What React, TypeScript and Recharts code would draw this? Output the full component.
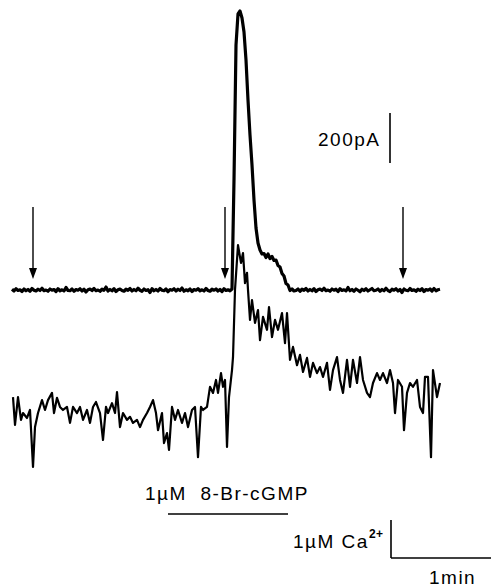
import React from "react";
import { ComposedChart, Line, XAxis, YAxis, ReferenceLine, ReferenceDot } from "recharts";

// Membrane current (pA), sampled every 1.2 s from t = 0 s
const SAMPLE_INTERVAL_S = 1.2;
const currentBefore: number[] = [
  3, -4, 5, -2, 1, -6, 4, -3, 2, -5,
  6, -1, -4, 3, -2, 7, -3, 0, -5, 4,
  -1, 2, -6, 5, -3, 1, -4, 10, -2, -3,
  4, -5, 2, -1, 5, -4, 3, -8, 1, 4,
  -2, 6, -3, 0, -5, 3, -1, 12, -4, 2,
  -3, 5, -6, 1, 4, -2, -5, 3, -1, 6,
  -4, 2, -3, 7, -1, -5, 4, -2, 1, -10,
  5, -3, 2, -4, 6, -1, -3, 4, -7, 2,
  -1, 5, -4, 3, -2, 8, -5, 1, -3, 4,
  -6, 2, -1, 5, -3, 1, -4, 6, -2, -5,
  3, -1, 4, -4, 2, -6, 5, -2, 1, -3, 4,
];
const currentTransient: number[] = [
  440, 980, 1104, 1116, 1088, 1032, 920, 760, 620, 500,
  360, 248, 188, 160, 144, 146, 130, 144, 126, 134,
  118, 120, 98, 92, 66, 56, 26, 20, -2, 4, -4,
];
const currentAfter: number[] = [
  -2, 4, -5, 3, -1, 6, -4, 2, -3, 5,
  -6, 1, 4, -2, 7, -3, 0, -5, 4, -1,
  3, -6, 5, -2, 1, -4, 10, -3, 2, -5,
  4, -1, -7, 3, -2, 5, -4, 1, 6, -3,
  -1, 4, -5, 2, -3, 7, -2, -6, 3, -1,
  5, -4, 2, -10, 4, -1, -3, 6, -2, 1,
  -5, 3, -2, 5, -6, 2, -1, 4, -4, 6,
  -3, 1, 3,
];

// Intracellular Ca2+ (µM): [time s, value]
const caTrace: [number, number][] = [
  [0.6, 0.44], [1.8, -0.29], [3.6, 0.44], [5.4, -0.16], [6.6, 0.02], [9.0, -0.11], [10.8, 0.10],
  [12.6, -1.40], [13.8, -0.35], [15.6, 0.02], [18.0, 0.36], [19.8, 0.10], [21.6, 0.36], [24.0, 0.55],
  [25.2, 0.02], [27.0, 0.42], [28.8, 0.18], [30.6, 0.10], [33.0, 0.18], [34.8, -0.24], [36.6, 0.18],
  [39.0, 0.02], [40.8, 0.18], [42.6, -0.16], [45.0, 0.10], [46.8, -0.24], [48.6, 0.18], [50.4, 0.31],
  [52.8, 0.02], [54.6, -0.69], [56.4, 0.18], [57.6, 0.02], [60.0, 0.28], [61.8, 0.02], [63.0, 0.57],
  [64.8, -0.35], [66.6, 0.02], [69.0, -0.16], [70.8, -0.08], [72.6, -0.24], [75.0, -0.16], [76.8, -0.35],
  [78.6, -0.16], [81.0, 0.02], [82.8, 0.18], [84.6, 0.36], [86.4, 0.02], [87.6, -0.43], [90.0, 0.02],
  [91.2, -0.77], [93.0, -0.51], [94.2, -0.95], [96.0, 0.18], [97.8, -0.16], [99.6, 0.10], [102.0, -0.24],
  [103.8, 0.02], [105.6, -0.35], [108.0, 0.10], [109.8, 0.18], [111.6, -1.14], [113.4, 0.18], [114.6, 0.10],
  [117.0, 0.18], [118.8, 0.71], [120.6, 0.55], [122.4, 0.89], [123.6, 0.55], [125.4, 1.07], [126.6, 0.71],
  [127.8, 0.89], [129.0, -0.87], [130.2, 0.44], [132.0, 1.15], [132.6, 1.49], [133.8, 3.26], [135.6, 4.44],
  [137.4, 3.97], [138.6, 4.23], [139.8, 3.44], [141.0, 3.71], [141.6, 3.26], [142.8, 2.47], [144.0, 2.99],
  [145.8, 2.39], [147.6, 2.73], [148.8, 1.94], [150.6, 2.55], [153.0, 2.21], [154.2, 2.81], [156.0, 2.02],
  [157.8, 2.47], [159.6, 2.21], [162.0, 2.65], [163.8, 1.86], [165.0, 2.65], [166.8, 1.42], [168.6, 1.76],
  [171.0, 1.28], [172.8, 1.55], [174.6, 1.10], [177.0, 1.47], [178.8, 0.97], [180.6, 1.34], [183.0, 1.07],
  [184.8, 1.23], [186.6, 0.97], [189.0, 1.34], [190.8, 0.63], [192.6, 1.15], [195.0, 1.49], [196.8, 0.89],
  [198.6, 0.55], [201.0, 1.42], [202.8, 0.71], [204.6, 1.42], [207.0, 0.81], [208.8, 1.49], [210.6, 0.89],
  [213.0, 0.55], [214.8, 0.44], [216.6, 0.81], [219.0, 1.07], [220.8, 0.89], [222.6, 1.07], [225.0, 0.81],
  [226.8, 1.15], [228.6, 0.81], [229.8, 0.02], [231.6, 0.89], [234.0, 0.71], [235.2, -0.43], [237.0, 0.55],
  [238.8, 0.81], [240.6, 0.71], [243.0, 0.89], [244.8, 0.18], [246.6, 0.02], [247.8, 0.97], [249.6, 0.97],
  [251.4, -1.14], [252.6, 1.15], [255.0, 0.44], [256.8, 0.81],
];

// Event markers (s)
const arrowTimes: number[] = [12.6, 127.8, 234.6];
const drugStart = 93.6;
const drugEnd = 165.6;

// Layout constants
const W = 491;
const H = 587;
const X_DOMAIN: [number, number] = [-7.2, 287.4];
const I_DOMAIN: [number, number] = [-1188, 1160];
const CA_DOMAIN: [number, number] = [-4.558, 10.889];

const currentData = [...currentBefore, ...currentTransient, ...currentAfter].map((v, k) => ({
  t: Math.round(k * SAMPLE_INTERVAL_S * 10) / 10,
  i: v,
}));
const caData = caTrace.map(([t, ca]) => ({ t, ca }));

const ArrowHead = (props: any) => {
  const { cx, cy } = props;
  if (cx == null || cy == null) return null;
  return <polygon points={`${cx},${cy} ${cx - 4},${cy - 11} ${cx + 4},${cy - 11}`} fill="#000" />;
};

const textStyle: React.CSSProperties = {
  fontFamily: "'Liberation Sans', Arial, sans-serif",
  fontSize: 19,
  letterSpacing: 1.5,
  whiteSpace: "pre",
};

export default function App() {
  return (
    <div style={{ position: "absolute", left: 0, top: 0, width: W, height: H, background: "#fff" }}>
      <ComposedChart width={W} height={H} margin={{ top: 0, right: 0, bottom: 0, left: 0 }}>
        <XAxis type="number" dataKey="t" domain={X_DOMAIN} allowDataOverflow hide />
        <YAxis yAxisId="i" type="number" domain={I_DOMAIN} allowDataOverflow hide />
        <YAxis yAxisId="ca" type="number" domain={CA_DOMAIN} allowDataOverflow hide />

        <Line
          yAxisId="ca"
          data={caData}
          dataKey="ca"
          type="linear"
          stroke="#000"
          strokeWidth={2.2}
          strokeLinejoin="round"
          dot={false}
          activeDot={false}
          isAnimationActive={false}
        />
        <Line
          yAxisId="i"
          data={currentData}
          dataKey="i"
          type="linear"
          stroke="#000"
          strokeWidth={3.2}
          strokeLinejoin="round"
          dot={false}
          activeDot={false}
          isAnimationActive={false}
        />

        {arrowTimes.map((t) => (
          <ReferenceLine
            key={`s${t}`}
            yAxisId="i"
            segment={[{ x: t, y: 332 }, { x: t, y: 80 }]}
            stroke="#000"
            strokeWidth={1.4}
          />
        ))}
        {arrowTimes.map((t) => (
          <ReferenceDot key={`h${t}`} yAxisId="i" x={t} y={44} shape={ArrowHead} />
        ))}

        {/* 200 pA scale bar */}
        <ReferenceLine
          yAxisId="i"
          segment={[{ x: 226.8, y: 508 }, { x: 226.8, y: 708 }]}
          stroke="#000"
          strokeWidth={1.6}
        />
        {/* 1 µM Ca2+ / 1 min scale bars */}
        <ReferenceLine
          yAxisId="ca"
          segment={[{ x: 227.4, y: -2.795 }, { x: 227.4, y: -3.795 }]}
          stroke="#000"
          strokeWidth={1.6}
        />
        <ReferenceLine
          yAxisId="ca"
          segment={[{ x: 227.4, y: -3.795 }, { x: 287.4, y: -3.795 }]}
          stroke="#000"
          strokeWidth={1.6}
        />
        {/* drug application bar */}
        <ReferenceLine
          yAxisId="ca"
          segment={[{ x: drugStart, y: -2.637 }, { x: drugEnd, y: -2.637 }]}
          stroke="#000"
          strokeWidth={1.6}
        />
      </ComposedChart>

      <svg width={W} height={H} style={{ position: "absolute", left: 0, top: 0, pointerEvents: "none" }}>
        <text x={318} y={146} style={textStyle} fill="#000">200pA</text>
        <text x={145} y={500} style={textStyle} fill="#000">{"1µM  8-Br-cGMP"}</text>
        <text x={293} y={548} style={textStyle} fill="#000">
          1µM Ca<tspan dy={-10} style={{ fontSize: 12, fontWeight: "bold", letterSpacing: 0.5 }}>2+</tspan>
        </text>
        <text x={429} y={584} style={textStyle} fill="#000">1min</text>
      </svg>
    </div>
  );
}
